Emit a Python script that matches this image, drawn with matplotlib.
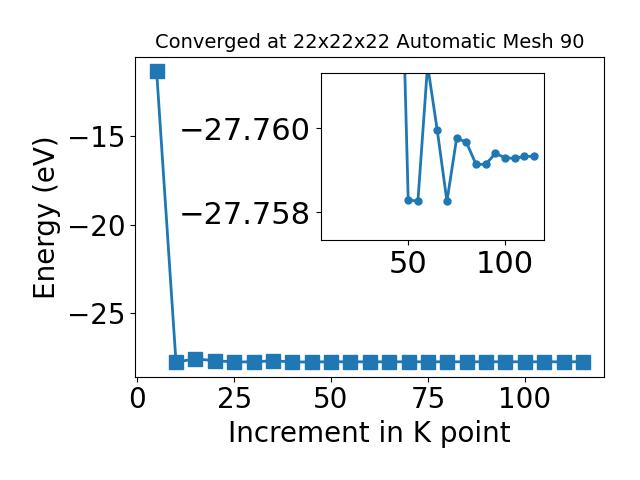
import matplotlib
matplotlib.use("Agg")
import matplotlib.pyplot as plt
from matplotlib.ticker import ScalarFormatter

kpoints = [5, 10, 15, 20, 25, 30, 35, 40, 45, 50, 55, 60, 65, 70, 75, 80,
           85, 90, 95, 100, 105, 110, 115]
energy = [-11.32, -27.78, -27.59, -27.70, -27.765, -27.765, -27.70, -27.77,
          -27.767, -27.7583, -27.75826, -27.7615, -27.75995, -27.75826,
          -27.75976, -27.75967, -27.75914, -27.75914, -27.7594, -27.7593,
          -27.75928, -27.75933, -27.75933]
title = "Converged at 22x22x22 Automatic Mesh 90"
main_xticks = [0, 25, 50, 75, 100]
main_yticks = [-25, -20, -15]
inset_xticks = [50, 100]
inset_yticks = [-27.760, -27.758]
inset_start = 8  # inset drawn from k = 45 onward

fig = plt.figure(figsize=(6.4, 4.8), dpi=100)
ax = fig.add_axes([0.2114, 0.2152, 0.7328, 0.6667])
ax.plot(kpoints, energy, color="#1f77b4", marker="s", markersize=10, linewidth=2)
ax.set_xticks(main_xticks)
ax.set_yticks(main_yticks)
ax.tick_params(labelsize=20)
ax.set_xlabel("Increment in K point", fontsize=20)
ax.set_ylabel("Energy (eV)", fontsize=20)
ax.set_title(title, fontsize=14)

ins = fig.add_axes([0.501, 0.5, 0.349, 0.3485])
ins.plot(kpoints[inset_start:], energy[inset_start:], color="#1f77b4",
         marker="o", markersize=5, linewidth=2)
ins.set_xlim(4.8, 120.1)
ins.set_ylim(-27.75734, -27.76132)
ins.set_xticks(inset_xticks)
ins.set_yticks(inset_yticks)
fmt = ScalarFormatter(useOffset=False)
ins.yaxis.set_major_formatter(fmt)
ins.tick_params(labelsize=22)

fig.savefig("out.png", dpi=100)
